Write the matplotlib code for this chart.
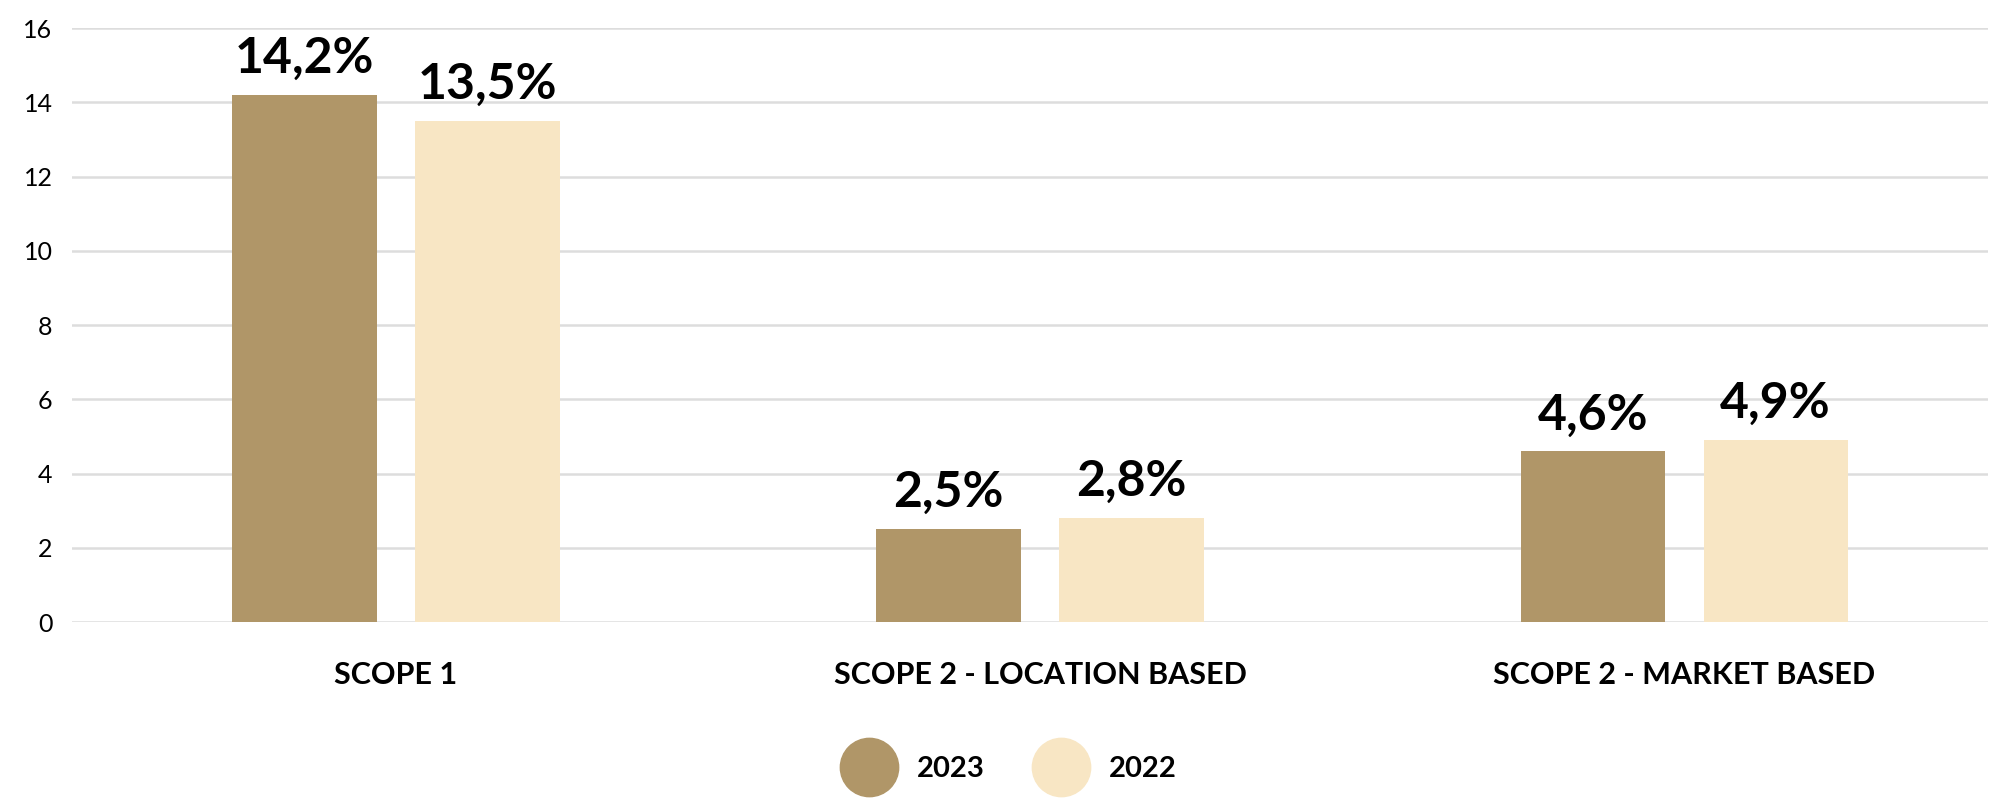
import matplotlib.pyplot as plt
from matplotlib.lines import Line2D
import numpy as np

# Data
categories = ['SCOPE 1', 'SCOPE 2 - LOCATION BASED', 'SCOPE 2 - MARKET BASED']
values_2023 = [14.2, 2.5, 4.6]
values_2022 = [13.5, 2.8, 4.9]
series_names = ['2023', '2022']
yticks = [0, 2, 4, 6, 8, 10, 12, 14, 16]

color_2023 = '#B09668'
color_2022 = '#F8E6C4'

plt.rcParams['font.family'] = ['Lato', 'DejaVu Sans']

fig = plt.figure(figsize=(19.92, 7.99), dpi=100)
ax = fig.add_axes([0.0361, 0.2215, 0.962, 0.7434])

x = np.arange(len(categories))
width = 0.224
offset = 0.142

bars1 = ax.bar(x - offset, values_2023, width, color=color_2023, zorder=3)
bars2 = ax.bar(x + offset, values_2022, width, color=color_2022, zorder=3)

# Value labels
for bars in (bars1, bars2):
    for b in bars:
        h = b.get_height()
        ax.annotate(f'{h:.1f}%'.replace('.', ','), (b.get_x() + b.get_width() / 2, h),
                    xytext=(0, 10), textcoords='offset points',
                    ha='center', va='bottom', fontsize=36, fontweight='bold')

# Axes styling
ax.set_xlim(-0.503, 2.472)
ax.set_ylim(0, 16)
ax.set_yticks(yticks)
ax.set_yticklabels([str(t) for t in yticks], fontsize=18)
ax.yaxis.grid(True, color='#DDDDDD', linewidth=1.8, zorder=0)
ax.set_xticks(x)
ax.set_xticklabels(categories, fontsize=22, fontweight='bold')
ax.tick_params(axis='both', length=0)
ax.tick_params(axis='x', pad=28)
ax.tick_params(axis='y', pad=14)
for s in ax.spines.values():
    s.set_visible(False)

# Legend
handles = [Line2D([], [], marker='o', linestyle='none', markersize=42,
                  markerfacecolor=c, markeredgecolor=c) for c in (color_2023, color_2022)]
fig.legend(handles, series_names, loc='center', bbox_to_anchor=(0.508, 0.037), ncol=2,
           frameon=False, prop={'size': 21, 'weight': 'bold'},
           handletextpad=0.9, columnspacing=1.85, handlelength=1.5)

fig.savefig('out.png', dpi=100, facecolor='white')
